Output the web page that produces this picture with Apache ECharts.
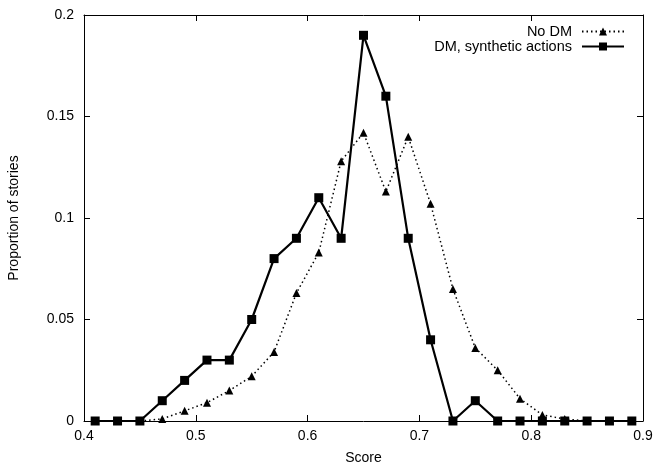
<!DOCTYPE html>
<html>
<head>
<meta charset="utf-8">
<script src="https://cdn.jsdelivr.net/npm/echarts@6/dist/echarts.min.js"></script>
<style>html,body{margin:0;padding:0;background:#fff}#c{width:657px;height:466px}</style>
</head>
<body>
<div id="c"></div>
<script>
const scores = [0.41,0.43,0.45,0.47,0.49,0.51,0.53,0.55,0.57,0.59,0.61,0.63,0.65,0.67,0.69,0.71,0.73,0.75,0.77,0.79,0.81,0.83,0.85,0.87,0.89];
const noDM = [0,0,0,0.001,0.005,0.009,0.015,0.022,0.034,0.063,0.083,0.128,0.142,0.113,0.14,0.107,0.065,0.036,0.025,0.011,0.003,0.001,0,0,0];
const dmSynthetic = [0,0,0,0.01,0.02,0.03,0.03,0.05,0.08,0.09,0.11,0.09,0.19,0.16,0.09,0.04,0,0.01,0,0,0,0,0,0,0];
const xTicks = [0.4,0.5,0.6,0.7,0.8,0.9];
const yTicks = [0,0.05,0.1,0.15,0.2];
const seriesNames = ['No DM','DM, synthetic actions'];

const font = 'Liberation Sans, Arial, sans-serif';
const fs = 14;
const chart = echarts.init(document.getElementById('c'), null, {renderer:'canvas'});
const pair = arr => scores.map((x,i)=>[x,arr[i]]);
const axisCommon = {
  axisLine:{show:true,onZero:false,lineStyle:{color:'#000',width:1}},
  axisTick:{show:true,inside:true,length:6,lineStyle:{color:'#000'}},
  splitLine:{show:false}
};
chart.setOption({
  animation:false,
  backgroundColor:'#fff',
  textStyle:{fontFamily:font},
  grid:{left:84,right:14,top:15,bottom:45,containLabel:false,outerBoundsMode:'none'},
  legend:{
    orient:'vertical', right:32, top:24, align:'right', padding:0,
    itemWidth:42, itemHeight:10, itemGap:0,
    textStyle:{fontFamily:font,fontSize:14.5,lineHeight:14,color:'#000',padding:[0,5,0,0]},
    data:seriesNames
  },
  xAxis:[
    Object.assign({type:'value',min:0.4,max:0.9,interval:0.1,position:'bottom',
      name:'Score',nameLocation:'middle',nameGap:30,
      nameTextStyle:{fontFamily:font,fontSize:fs,color:'#000'},
      axisLabel:{fontFamily:font,fontSize:fs,color:'#000',margin:8,
        formatter:v=>{const t=xTicks.find(a=>Math.abs(a-v)<1e-9);return t===undefined?'':String(t);}}},axisCommon),
    Object.assign({type:'value',min:0.4,max:0.9,interval:0.1,position:'top',axisLabel:{show:false}},axisCommon)
  ],
  yAxis:[
    Object.assign({type:'value',min:0,max:0.2,interval:0.05,position:'left',
      name:'Proportion of stories',nameLocation:'middle',nameGap:63,nameRotate:90,
      nameTextStyle:{fontFamily:font,fontSize:fs,color:'#000'},
      axisLabel:{fontFamily:font,fontSize:fs,color:'#000',margin:10,
        formatter:v=>{const t=yTicks.find(a=>Math.abs(a-v)<1e-9);return t===undefined?'':String(t);}}},axisCommon),
    Object.assign({type:'value',min:0,max:0.2,interval:0.05,position:'right',axisLabel:{show:false}},axisCommon)
  ],
  series:[
    {name:seriesNames[0],type:'line',data:pair(noDM),symbol:'triangle',symbolSize:8,
      lineStyle:{color:'#000',width:1.5,type:[1.5,3]},itemStyle:{color:'#000'},z:2},
    {name:seriesNames[1],type:'line',data:pair(dmSynthetic),symbol:'rect',symbolSize:9,
      lineStyle:{color:'#000',width:2.2,type:'solid'},itemStyle:{color:'#000'},z:3}
  ]
});
</script>
</body>
</html>
